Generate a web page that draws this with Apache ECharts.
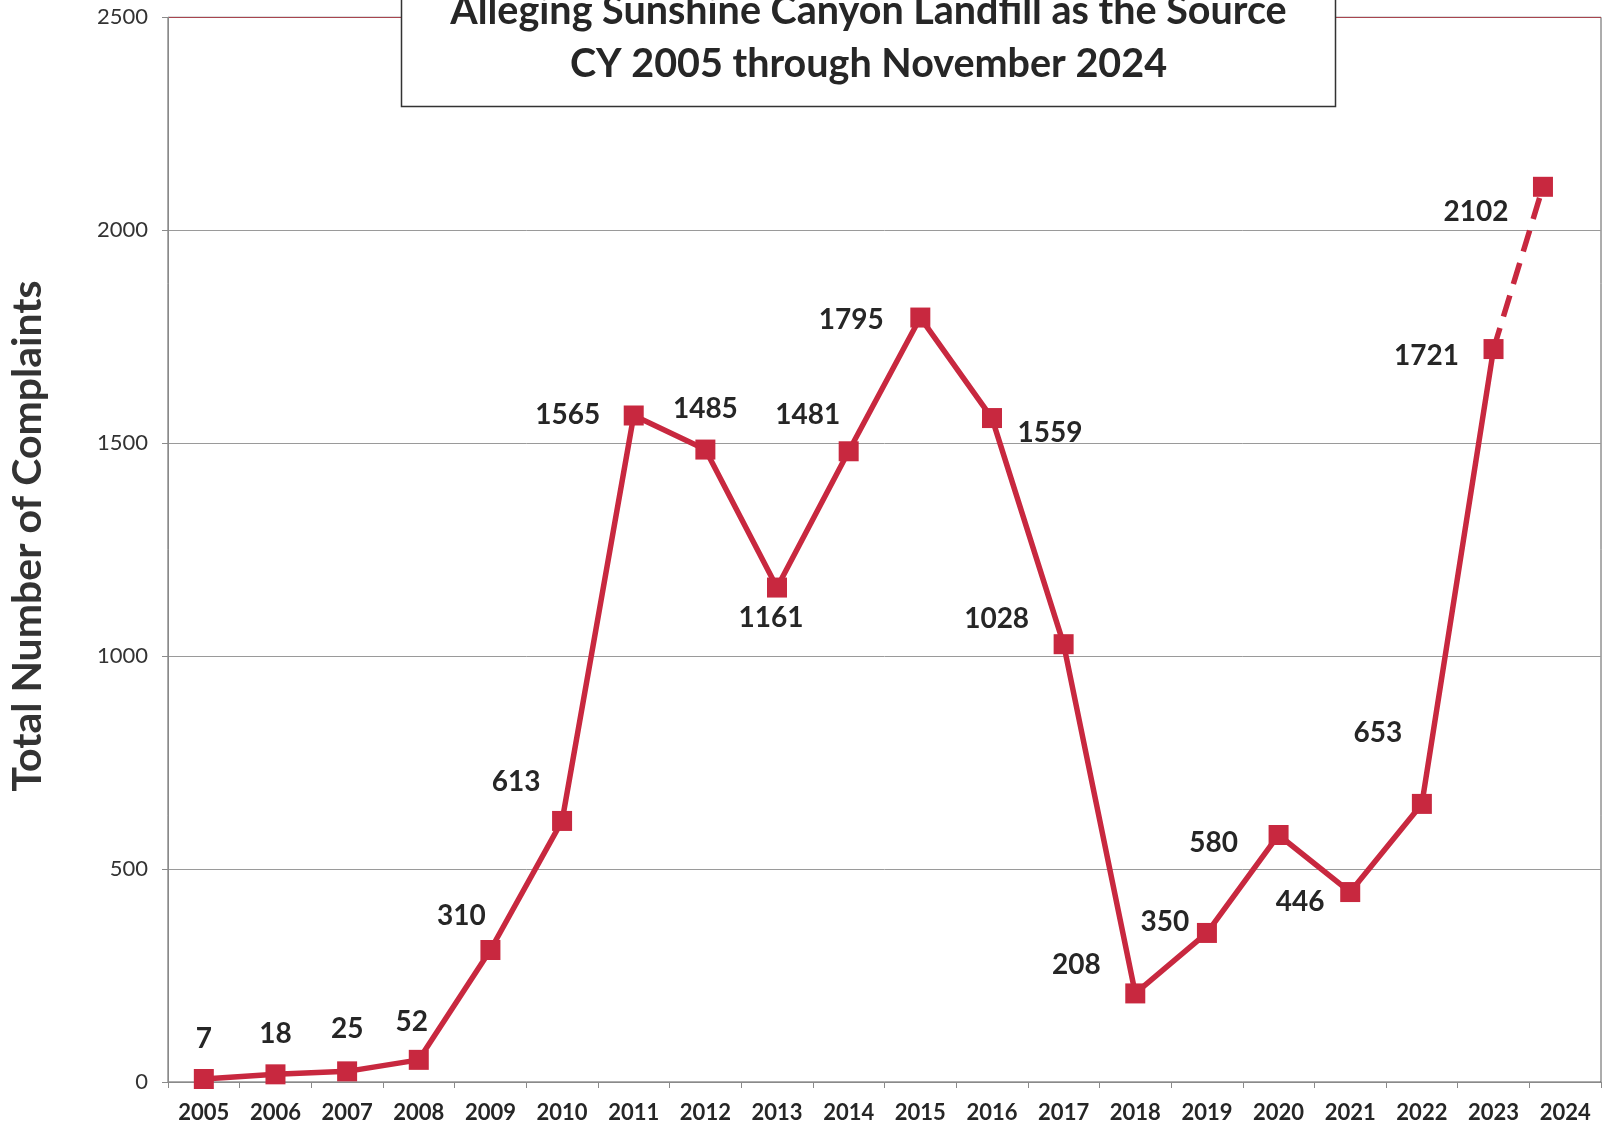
<!DOCTYPE html>
<html>
<head>
<meta charset="utf-8">
<script src="https://cdn.jsdelivr.net/npm/echarts@6/dist/echarts.min.js"></script>
<style>
html,body{margin:0;padding:0;background:#fff;}
#chart{width:1606px;height:1127px;}
</style>
</head>
<body>
<div id="chart"></div>
<script>
// ---- data ----
const categories = ['2005','2006','2007','2008','2009','2010','2011','2012','2013','2014','2015','2016','2017','2018','2019','2020','2021','2022','2023','2024'];
const solidYears = [2005,2006,2007,2008,2009,2010,2011,2012,2013,2014,2015,2016,2017,2018,2019,2020,2021,2022,2023];
const solidValues = [7,18,25,52,310,613,1565,1485,1161,1481,1795,1559,1028,208,350,580,446,653,1721];
// partial-year 2024 point (through November), plotted slightly left of the 2024 slot
const dashedYears = [2023, 2023.69];
const dashedValues = [1721, 2102];
const yTicks = [0,500,1000,1500,2000,2500];
const titleLines = ['Alleging Sunshine Canyon Landfill as the Source','CY 2005 through November 2024'];
const yAxisTitle = 'Total Number of Complaints';

// ---- styles ----
const RED = '#c8283f';
const TXT = '#262626';
const labelOffsets = [[0,-40],[0,-40],[0,-42],[-7,-38],[-29,-34],[-46,-39],[-66,-1],[0,-41],[-6,30],[-41,-36],[-69,2],[58,15],[-67,-25],[-59,-28],[-42,-11],[-65,8],[-50,10],[-44,-71],[-67,7]];
const lastLabelOffset = [-67,25];

const chart = echarts.init(document.getElementById('chart'));
const labelFont = {fontFamily:'Lato', fontWeight:'bold', fontSize:28, color:TXT};

const solidData = solidYears.map((y,i)=>({
  value:[y, solidValues[i]],
  label:{show:true, position:'inside', offset:labelOffsets[i], ...labelFont, formatter:String(solidValues[i])}
}));
const dashedData = dashedYears.map((y,i)=>({
  value:[y, dashedValues[i]],
  symbolSize: i===0 ? 0 : 20,
  label: i===0 ? {show:false} : {show:true, position:'inside', offset:lastLabelOffset, ...labelFont, formatter:String(dashedValues[i])}
}));

chart.setOption({
  animation:false,
  backgroundColor:'#fff',
  grid:{left:168, right:5, top:17.3, bottom:45, show:true, borderColor:'#5a5a5a', borderWidth:1, backgroundColor:'transparent'},
  xAxis:[
    {type:'category', data:categories, boundaryGap:true, position:'bottom',
     axisLine:{show:true, lineStyle:{color:'#8a8a8a', width:1}},
     axisTick:{show:true, alignWithLabel:false, length:6, lineStyle:{color:'#8a8a8a'}},
     axisLabel:{margin:20, fontFamily:'Lato', fontWeight:'bold', fontSize:22, color:TXT},
     splitLine:{show:false}},
    {type:'value', min:2004.5, max:2024.5, show:false}
  ],
  yAxis:{type:'value', min:yTicks[0], max:yTicks[yTicks.length-1], interval:500,
    axisLine:{show:true, lineStyle:{color:'#8a8a8a', width:1}},
    axisTick:{show:true, length:6, lineStyle:{color:'#8a8a8a'}},
    axisLabel:{margin:20, fontFamily:'Lato', fontSize:22, color:'#333', formatter:v=>String(v)},
    splitLine:{show:true, lineStyle:{color:['#9a9a9a','#9a9a9a','#9a9a9a','#9a9a9a','#9a9a9a','#a8454f'], width:1}}
  },
  series:[
    {type:'line', xAxisIndex:1, data:solidData, symbol:'rect', symbolSize:20,
     lineStyle:{color:RED, width:5.5}, itemStyle:{color:RED}, z:3},
    {type:'line', xAxisIndex:1, data:dashedData, symbol:'rect',
     lineStyle:{color:RED, width:5.5, type:[22,12]}, itemStyle:{color:RED}, z:3}
  ],
  graphic:[
    {type:'rect', shape:{x:401.5, y:-10, width:934, height:116.5}, style:{fill:'#fff', stroke:'#333', lineWidth:1.5}, z:100},
    {type:'text', x:868.5, y:31, z:101, style:{text:titleLines[0], font:'bold 39.5px Lato', fill:TXT, textAlign:'center', textVerticalAlign:'bottom'}},
    {type:'text', x:868.5, y:84, z:101, style:{text:titleLines[1], font:'bold 39.5px Lato', fill:TXT, textAlign:'center', textVerticalAlign:'bottom'}},
    {type:'text', x:28, y:536, rotation:Math.PI/2, z:101, style:{text:yAxisTitle, font:'bold 41px Lato', fill:'#333', textAlign:'center', textVerticalAlign:'middle'}}
  ]
});
</script>
</body>
</html>
